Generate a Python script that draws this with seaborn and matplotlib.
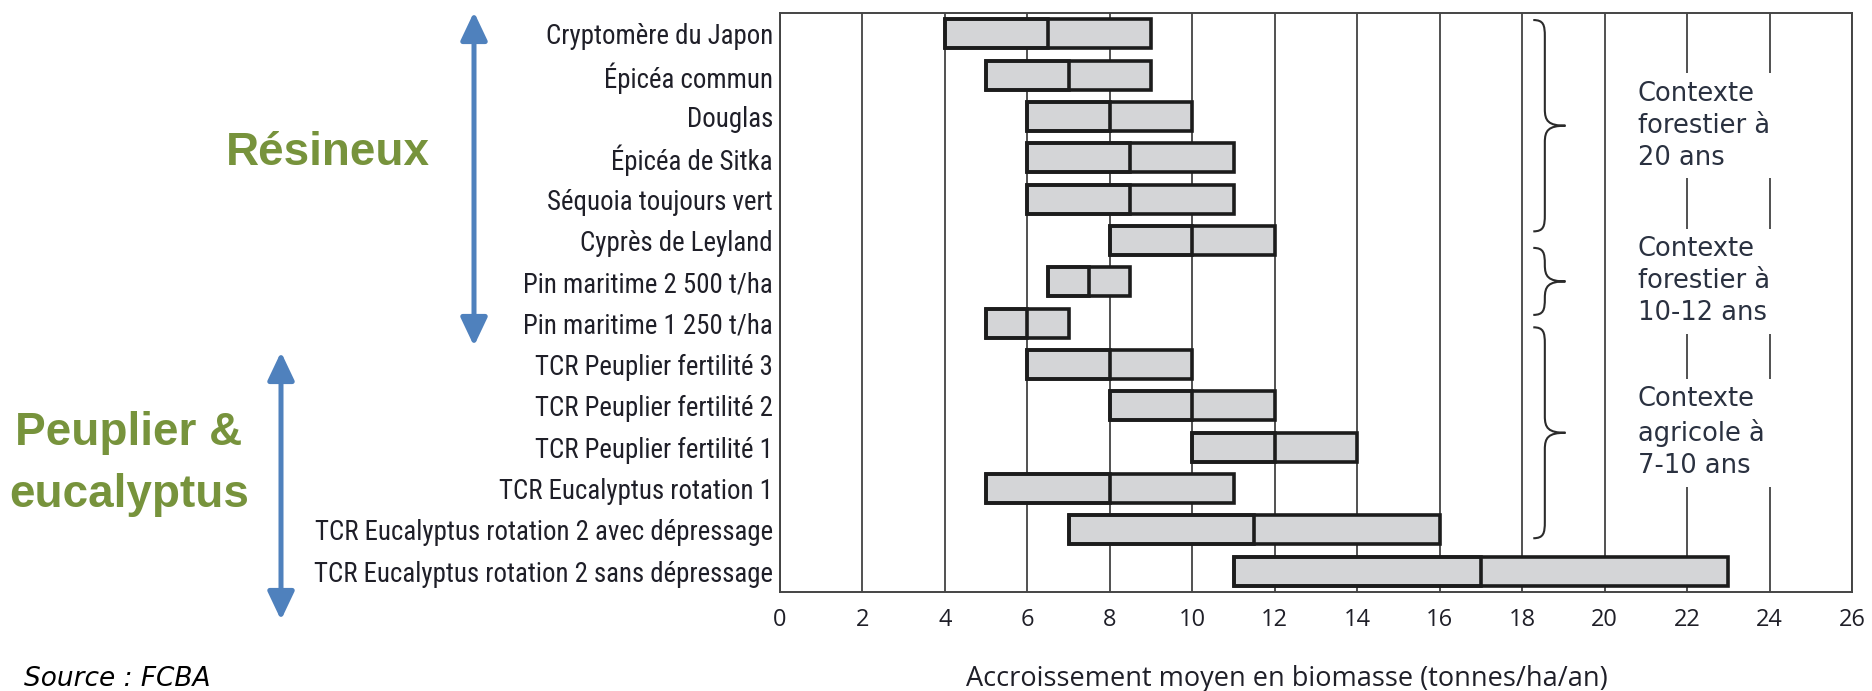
import matplotlib
matplotlib.use("Agg")
import numpy as np
import pandas as pd
import matplotlib.pyplot as plt
from matplotlib import font_manager
from matplotlib.patches import FancyArrowPatch, PathPatch
from matplotlib.path import Path
import seaborn as sns

# ---- data -------------------------------------------------------------
species = [
    "Cryptomère du Japon",
    "Épicéa commun",
    "Douglas",
    "Épicéa de Sitka",
    "Séquoia toujours vert",
    "Cyprès de Leyland",
    "Pin maritime 2 500 t/ha",
    "Pin maritime 1 250 t/ha",
    "TCR Peuplier fertilité 3",
    "TCR Peuplier fertilité 2",
    "TCR Peuplier fertilité 1",
    "TCR Eucalyptus rotation 1",
    "TCR Eucalyptus rotation 2 avec dépressage",
    "TCR Eucalyptus rotation 2 sans dépressage",
]
low = [4, 5, 6, 6, 6, 8, 6.5, 5, 6, 8, 10, 5, 7, 11]
median = [6.5, 7, 8, 8.5, 8.5, 10, 7.5, 6, 8, 10, 12, 8, 11.5, 17]
high = [9, 9, 10, 11, 11, 12, 8.5, 7, 10, 12, 14, 11, 16, 23]
x_ticks = list(range(0, 27, 2))

context_labels = [
    "Contexte\nforestier à\n20 ans",
    "Contexte\nforestier à\n10-12 ans",
    "Contexte\nagricole à\n7-10 ans",
]
context_spans = [(-0.33, 4.78), (5.18, 6.8), (7.1, 12.2)]

group_labels = ["Résineux", "Peuplier &\neucalyptus"]
x_label = "Accroissement moyen en biomasse (tonnes/ha/an)"
source_label = "Source : FCBA"

# ---- style ------------------------------------------------------------
W, H = 1872, 691
sns.set_style("white")
plt.rcParams["font.family"] = ["DejaVu Sans"]

available = {f.name for f in font_manager.fontManager.ttflist}
narrow_candidates = ["Liberation Sans Narrow", "Roboto Condensed",
                     "Open Sans Condensed", "Noto Sans Condensed"]
label_family = next((f for f in narrow_candidates if f in available), "Liberation Sans")

INK = "#1f1f28"
BAR_FILL = "#d4d5d7"
BAR_EDGE = "#1c1c1c"
GREEN = "#77933c"
BLUE = "#4f81bd"
NOTE = "#2a3140"

df = pd.DataFrame({"essence": species, "bas": low, "mediane": median, "haut": high})
df["etendue"] = df["haut"] - df["bas"]
df["vers_mediane"] = df["mediane"] - df["bas"]

fig = plt.figure(figsize=(W / 100, H / 100), dpi=100)
ax = fig.add_axes([780 / W, 1 - 592 / H, (1852 - 780) / W, (592 - 13) / H])

# full range box
sns.barplot(data=df, x="etendue", y="essence", orient="y",
            left=df["bas"].to_numpy(), width=0.7, color=BAR_FILL,
            saturation=1, edgecolor=BAR_EDGE, linewidth=2.6,
            errorbar=None, ax=ax, zorder=2)
# outline up to the median: its right edge marks the median
sns.barplot(data=df, x="vers_mediane", y="essence", orient="y",
            left=df["bas"].to_numpy(), width=0.7, fill=False,
            color=BAR_EDGE, saturation=1, linewidth=2.6,
            errorbar=None, ax=ax, zorder=3)

ax.set_xlim(0, 26)
ax.set_ylim(13.5, -0.5)
ax.set_xticks(x_ticks)
ax.set_xticklabels([str(t) for t in x_ticks], fontfamily="Open Sans",
                   fontsize=17, color=INK)
ax.set_ylabel("")
ax.tick_params(axis="x", direction="out", length=7.5, width=1.2,
               color="#333333", pad=4)
ax.tick_params(axis="y", length=0, pad=5)

ax.xaxis.grid(True, color="#222222", lw=1.1)
ax.yaxis.grid(False)
ax.set_axisbelow(True)
for sp in ax.spines.values():
    sp.set_visible(True)
    sp.set_color("#444444")
    sp.set_linewidth(1.4)

ax.set_xlabel(x_label, fontfamily="Open Sans", fontsize=19.5, color=INK)
ax.xaxis.set_label_coords((1287 - 780) / 1072, -(686 - 592) / 579)
ax.xaxis.label.set_va("baseline")

# category labels in a narrow face, sized so the longest fills the margin
for lbl in ax.get_yticklabels():
    lbl.set_fontfamily(label_family)
    lbl.set_fontsize(18)
    lbl.set_color(INK)
renderer = fig.canvas.get_renderer()
widest = max(l.get_window_extent(renderer).width for l in ax.get_yticklabels())
label_size = min(18 * 460 / widest, 22)
for lbl in ax.get_yticklabels():
    lbl.set_fontsize(label_size)

# ---- braces and context notes ----------------------------------------
def brace(ax, x0, y0, y1, depth=0.5, curl=0.28, r=0.4):
    ym = (y0 + y1) / 2
    verts = [
        (x0 - curl, y0),
        (x0 - 0.03, y0), (x0, y0 + 0.12), (x0, y0 + r),
        (x0, ym - r),
        (x0, ym - 0.12), (x0 + 0.08, ym), (x0 + depth, ym),
        (x0 + 0.08, ym), (x0, ym + 0.12), (x0, ym + r),
        (x0, y1 - r),
        (x0, y1 - 0.12), (x0 - 0.03, y1), (x0 - curl, y1),
    ]
    codes = ([Path.MOVETO] + [Path.CURVE4] * 3 + [Path.LINETO]
             + [Path.CURVE4] * 6 + [Path.LINETO] + [Path.CURVE4] * 3)
    ax.add_patch(PathPatch(Path(verts, codes), fill=False,
                           edgecolor="#2b2b2b", lw=1.5, zorder=4))

for (y0, y1), text in zip(context_spans, context_labels):
    brace(ax, 18.55, y0, y1)
    ax.text(20.8, (y0 + y1) / 2, text, ha="left", va="center",
            fontsize=18.5, linespacing=1.3, color=NOTE, zorder=5,
            bbox=dict(facecolor="white", edgecolor="none",
                      boxstyle="square,pad=0.3"))

# ---- group markers on the left ----------------------------------------
def fxy(px, py):
    return (px / W, 1 - py / H)

for (xa, ya, yb) in [(474, 12, 346), (281, 352, 620)]:
    fig.add_artist(FancyArrowPatch(
        fxy(xa, ya), fxy(xa, yb), transform=fig.transFigure,
        arrowstyle="<|-|>,head_length=0.95,head_width=0.45",
        mutation_scale=18, lw=3.6, color=BLUE,
        shrinkA=0, shrinkB=0))

fig.text(*fxy(328, 165), group_labels[0], ha="center", va="baseline",
         fontsize=33, fontweight="bold", color=GREEN,
         fontfamily="Liberation Sans")
for line, yb in zip(group_labels[1].split("\n"), [445, 507]):
    fig.text(*fxy(129, yb), line, ha="center", va="baseline",
             fontsize=33, fontweight="bold", color=GREEN,
             fontfamily="Liberation Sans")

fig.text(*fxy(24, 686), source_label, ha="left", va="baseline",
         fontsize=19, style="italic", color="black")

fig.savefig("out.png", dpi=100)
